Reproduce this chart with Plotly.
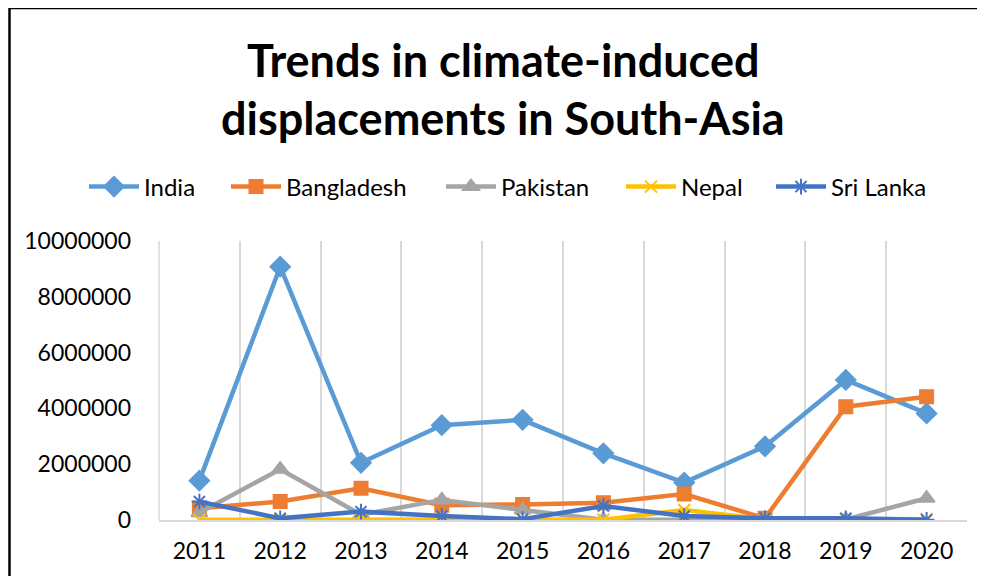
import plotly.graph_objects as go

years = ["2011", "2012", "2013", "2014", "2015", "2016", "2017", "2018", "2019", "2020"]
india = [1410000, 9080000, 2050000, 3400000, 3590000, 2390000, 1340000, 2640000, 5020000, 3820000]
bangladesh = [420000, 660000, 1140000, 530000, 560000, 620000, 930000, 60000, 4060000, 4420000]
pakistan = [260000, 1820000, 190000, 720000, 360000, 10000, 10000, 10000, 20000, 780000]
nepal = [5000, 10000, 30000, 50000, 20000, 10000, 360000, 20000, 30000, 30000]
sri_lanka = [660000, 60000, 300000, 140000, 30000, 500000, 140000, 60000, 60000, 5000]

series = [
    ("India", india, "#5B9BD5", "diamond", 15, 88),
    ("Bangladesh", bangladesh, "#ED7D31", "square", 13, 230),
    ("Pakistan", pakistan, "#A5A5A5", "triangle-up", 14, 445),
    ("Nepal", nepal, "#FFC000", "x-thin-open", 12, 625),
    ("Sri Lanka", sri_lanka, "#4472C4", "asterisk-open", 13, 775),
]

FONT = "Lato, Carlito, Calibri, sans-serif"
OFF = 8  # page body margin
W, H = 985 - 2 * OFF, 584 - 2 * OFF
# plot area in screen pixels: x 159..967, y 241..520
L, T = 159 - OFF, 241 - OFF
R = W - (967 - OFF)
B = H - (520 - OFF)
PW, PH = W - L - R, H - T - B


def px(x):
    return (x - OFF - L) / PW


def py(y):
    return (H - B - (y - OFF)) / PH


fig = go.Figure()
legends = {}
for i, (name, vals, color, sym, size, lx) in enumerate(series):
    lname = "legend" if i == 0 else f"legend{i + 1}"
    fig.add_trace(go.Scatter(
        x=years, y=vals, name=name, mode="lines+markers",
        line=dict(color=color, width=4.5),
        marker=dict(symbol=sym, size=size, color=color,
                    line=dict(color=color, width=2)),
        legend=lname,
    ))
    legends[lname] = dict(
        orientation="h", x=px(lx - 4), xref="paper", xanchor="left",
        y=py(187), yref="paper", yanchor="middle",
        font=dict(family=FONT, size=24), itemwidth=50,
        bgcolor="rgba(0,0,0,0)",
    )

fig.update_layout(
    width=W, height=H,
    paper_bgcolor="white", plot_bgcolor="white",
    margin=dict(l=L, r=R, t=T, b=B, autoexpand=False),
    font=dict(family=FONT, size=23, color="#000000"),
    showlegend=True,
    **legends,
)

for txt, yc in [("<b>Trends in climate-induced</b>", 60), ("<b>displacements in South-Asia</b>", 118)]:
    fig.add_annotation(text=txt, xref="paper", yref="paper", x=px(503), y=py(yc),
                       xanchor="center", yanchor="middle", showarrow=False,
                       font=dict(family=FONT, size=45, color="#000000"))

fig.update_xaxes(
    type="category", range=[-0.5, 9.5], tickson="boundaries", ticks="", automargin=False,
    showgrid=True, gridcolor="#D9D9D9", gridwidth=1.5,
    showline=True, linecolor="#D9D9D9", linewidth=1.5,
    tickfont=dict(family=FONT, size=23), ticklabelstandoff=10,
)
fig.update_yaxes(
    range=[0, 10000000], dtick=2000000, tickformat="d", automargin=False,
    showgrid=False, zeroline=False, showline=False, ticks="",
    tickfont=dict(family=FONT, size=23), ticklabelstandoff=27,
)

# left boundary gridline of the category axis
fig.add_shape(type="line", xref="paper", yref="paper", layer="below",
              x0=0, x1=0, y0=0, y1=1, line=dict(color="#D9D9D9", width=1.5))

# outer chart border (left and top edges visible)
fig.add_shape(type="line", xref="paper", yref="paper",
              x0=px(9.5), x1=px(9.5), y0=py(620), y1=py(8), line=dict(color="black", width=2.5))
fig.add_shape(type="line", xref="paper", yref="paper",
              x0=px(9.5), x1=px(1000), y0=py(8), y1=py(8), line=dict(color="black", width=2.5))

fig.write_html("out.html")
